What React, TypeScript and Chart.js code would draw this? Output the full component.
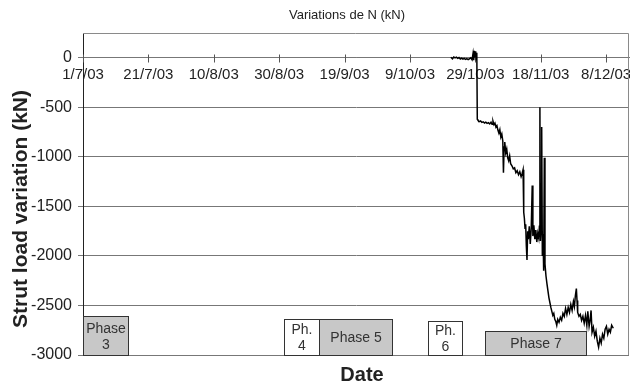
import React, { useEffect, useRef } from 'react';
import { Chart, registerables } from 'chart.js';

Chart.register(...registerables);

// X axis: days since 1/7/03
const tickDays = [0, 20, 40, 60, 80, 100, 120, 140, 160];
const tickLabels = ['1/7/03', '21/7/03', '10/8/03', '30/8/03', '19/9/03', '9/10/03', '29/10/03', '18/11/03', '8/12/03'];
const yTicks = [0, -500, -1000, -1500, -2000, -2500, -3000];

const days = [
  112.5, 113.0, 113.4, 113.8, 114.2, 114.6, 115.0, 115.4, 115.8, 116.2, 116.6, 117.0, 117.4, 117.8, 118.2, 118.6,
  119.0, 119.3, 119.5, 119.7, 119.9, 120.1, 120.3, 120.45, 120.6,
  120.8, 121.2, 121.6, 122.0, 122.4, 122.8, 123.2, 123.6, 124.0, 124.4, 124.8, 125.1, 125.4, 125.7, 126.0, 126.3,
  126.6, 126.9, 127.2, 127.5, 127.8, 128.1, 128.4, 128.6, 128.8, 129.0, 129.3, 129.6, 129.9, 130.2, 130.5, 130.8,
  131.2, 131.6, 132.0, 132.4, 132.8, 133.2, 133.6, 134.0, 134.3, 134.6, 134.8, 135.0, 135.2, 135.4, 135.6, 135.8,
  136.0, 136.2, 136.5, 136.8, 137.1, 137.4, 137.6, 137.9, 138.2, 138.5, 138.8, 139.1, 139.4, 139.6, 139.75, 139.9,
  140.1, 140.3, 140.5, 140.7, 140.9, 141.1, 141.3, 141.6, 141.9, 142.2, 142.5, 142.8, 143.1, 143.4, 143.7, 144.0,
  144.3, 144.6, 144.9, 145.2, 145.6, 146.0, 146.4, 146.8, 147.2, 147.6, 148.0, 148.4, 148.8, 149.2, 149.6, 150.0,
  150.3, 150.6, 150.9, 151.1, 151.3, 151.7, 152.1, 152.5, 152.9, 153.3, 153.7, 154.1, 154.4, 154.8, 155.1, 155.4,
  155.7, 156.1, 156.5, 156.9, 157.3, 157.7, 158.1, 158.5, 158.9, 159.3, 159.7, 160.1, 160.5, 160.9, 161.3, 161.7,
  162.2,
];

const load = [
  5, -10, 8, -2, 6, -6, 2, -12, -4, -14, -6, -16, -8, -18, -10, 0,
  -20, 45, -25, 70, 10, 65, -20, 50, -620,
  -630, -645, -638, -652, -646, -658, -650, -662, -655, -668, -650, -672, -640, -675, -660, -700,
  -685, -730, -760, -725, -800, -770, -840, -1160, -900, -850, -960, -920, -1010, -1040, -990, -1070,
  -1090, -1120, -1110, -1160, -1140, -1180, -1150, -1200, -1170, -1130, -1560, -1620, -1720, -1680, -1900, -2040,
  -1750, -1830, -1700, -1880, -1720, -1290, -1800, -1690, -1830, -1740, -1860, -1770, -1820, -1700, -500, -1850,
  -1720, -700, -2000, -1780, -2150, -1010, -2080, -2200, -2280, -2350, -2420, -2470, -2520, -2560, -2600, -2580,
  -2640, -2660, -2700, -2640, -2670, -2620, -2650, -2580, -2610, -2530, -2590, -2520, -2570, -2490, -2550, -2460,
  -2510, -2400, -2330, -2450, -2570, -2610, -2590, -2650, -2610, -2680, -2600, -2700, -2560, -2710, -2650, -2550,
  -2770, -2720, -2810, -2760, -2860, -2920, -2830, -2880, -2790, -2830, -2740, -2710, -2790, -2740, -2770, -2700,
  -2730,
];

const phaseLabels = [['Phase', '3'], ['Ph.', '4'], ['Phase 5'], ['Ph.', '6'], ['Phase 7']];
const phaseStart = [0, 61.6, 72.3, 105.4, 122.9];
const phaseEnd = [13.8, 72.3, 94.6, 115.8, 154.0];
const phaseTop = [-2610, -2640, -2640, -2655, -2755];
const phaseShaded = [true, false, true, false, true];

const FONT = "'Liberation Sans', Arial, sans-serif";

const decor = {
  id: 'decor',
  beforeDatasetsDraw(chart: any) {
    const { ctx, chartArea: a } = chart;
    ctx.save();
    ctx.lineWidth = 1;
    ctx.strokeStyle = '#8a8a8a';
    ctx.beginPath();
    ctx.moveTo(a.left, a.top + 0.5);
    ctx.lineTo(a.right - 0.5, a.top + 0.5);
    ctx.lineTo(a.right - 0.5, a.bottom);
    ctx.stroke();
    // cross ticks on x axis
    const xs = chart.scales.x;
    const y0 = Math.round(chart.scales.y.getPixelForValue(0)) + 0.5;
    ctx.strokeStyle = '#555';
    tickDays.forEach((d) => {
      const px = Math.round(xs.getPixelForValue(d)) + 0.5;
      ctx.beginPath();
      ctx.moveTo(px, y0 - 4);
      ctx.lineTo(px, y0 + 4);
      ctx.stroke();
    });
    ctx.restore();
  },
  afterDraw(chart: any) {
    const { ctx } = chart;
    const xs = chart.scales.x;
    const ys = chart.scales.y;
    ctx.save();
    // phase boxes
    phaseLabels.forEach((lines, i) => {
      const x1 = Math.round(xs.getPixelForValue(phaseStart[i])) + 0.5;
      const x2 = Math.round(xs.getPixelForValue(phaseEnd[i])) + 0.5;
      const y1 = Math.round(ys.getPixelForValue(phaseTop[i])) + 0.5;
      const y2 = Math.round(ys.getPixelForValue(-3000)) + 0.5;
      ctx.fillStyle = phaseShaded[i] ? '#c8c8c8' : '#ffffff';
      ctx.fillRect(x1, y1, x2 - x1, y2 - y1);
      ctx.strokeStyle = '#333';
      ctx.lineWidth = 1;
      ctx.strokeRect(x1, y1, x2 - x1, y2 - y1);
      ctx.fillStyle = '#333';
      ctx.font = `14px ${FONT}`;
      ctx.textAlign = 'center';
      ctx.textBaseline = 'middle';
      const cx = (x1 + x2) / 2;
      const cy = (y1 + y2) / 2 + 1;
      const lh = 16;
      lines.forEach((t, k) => {
        ctx.fillText(t, cx, cy + (k - (lines.length - 1) / 2) * lh);
      });
    });
    // titles
    ctx.fillStyle = '#222';
    ctx.textAlign = 'center';
    ctx.textBaseline = 'middle';
    ctx.font = `13px ${FONT}`;
    ctx.fillText('Variations de N (kN)', 347, 15);
    ctx.font = `bold 20px ${FONT}`;
    ctx.fillText('Date', 362, 375);
    ctx.translate(21, 209);
    ctx.rotate(-Math.PI / 2);
    ctx.font = `bold 21px ${FONT}`;
    ctx.fillText('Strut load variation (kN)', 0, 0);
    ctx.restore();
  },
};

export default function App() {
  const ref = useRef<HTMLCanvasElement | null>(null);
  useEffect(() => {
    document.body.style.margin = '0';
    const canvas = ref.current;
    if (!canvas) return;
    const points = days.map((d, i) => ({ x: d, y: load[i] }));
    const chart = new Chart(canvas, {
      type: 'line',
      data: {
        datasets: [
          {
            data: points,
            borderColor: '#000',
            borderWidth: 1.5,
            pointRadius: 0,
            tension: 0,
            fill: false,
          },
        ],
      },
      options: {
        animation: false,
        responsive: false,
        maintainAspectRatio: false,
        layout: { padding: { left: 0, top: 33, right: 1, bottom: 29 } },
        plugins: {
          legend: { display: false },
          title: { display: false },
          tooltip: { enabled: false },
        },
        scales: {
          x: {
            type: 'linear',
            position: { y: 0 } as any,
            min: 0,
            max: 167,
            afterBuildTicks: (s: any) => {
              s.ticks = tickDays.map((v) => ({ value: v }));
            },
            afterFit: (s: any) => {
              s.height = 0;
              s.paddingLeft = 0;
              s.paddingRight = 0;
            },
            ticks: {
              autoSkip: false,
              maxRotation: 0,
              minRotation: 0,
              padding: 8,
              color: '#222',
              font: { family: FONT, size: 15 },
              callback: (v: any) => tickLabels[tickDays.indexOf(Number(v))] ?? '',
            },
            grid: { display: true, drawOnChartArea: false, drawTicks: false },
            border: { display: true, color: '#777', width: 1 },
          },
          y: {
            type: 'linear',
            min: -3000,
            max: 250,
            afterBuildTicks: (s: any) => {
              s.ticks = yTicks.map((v) => ({ value: v }));
            },
            afterFit: (s: any) => {
              s.width = 83;
            },
            ticks: {
              padding: 6,
              color: '#222',
              font: { family: FONT, size: 16 },
              callback: (v: any) => String(v),
            },
            grid: { color: '#777', lineWidth: 1, tickLength: 5 },
            border: { display: true, color: '#222', width: 1 },
          },
        },
      },
      plugins: [decor],
    });
    return () => chart.destroy();
  }, []);
  return <canvas ref={ref} width={630} height={384} style={{ display: 'block', width: 630, height: 384 }} />;
}
